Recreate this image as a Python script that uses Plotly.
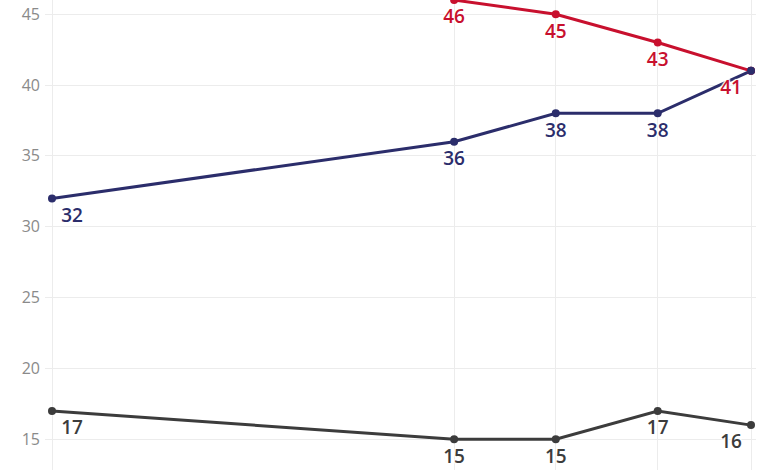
import plotly.graph_objects as go
import pandas as pd

dates = ["2019-01-01", "2022-12-15", "2023-12-15", "2024-12-15", "2025-11-15"]
red_dates = dates[1:]
red_vals = [46, 45, 43, 41]
blue_vals = [32, 36, 38, 38, 41]
gray_vals = [17, 15, 15, 17, 16]
y_ticks = [15, 20, 25, 30, 35, 40, 45]

RED = "#c8102e"
BLUE = "#2b2d6b"
GRAY = "#3c3c3c"

shadow = "1px 1px 1px #fff, -1px -1px 1px #fff, 1px -1px 1px #fff, -1px 1px 1px #fff"
FONT = "Open Sans"
LBL_SIZE = 19

fig = go.Figure()


def add_series(x, y, color, texts, positions):
    fig.add_trace(go.Scatter(
        x=x, y=y, mode="lines+markers",
        line=dict(color=color, width=3), marker=dict(size=8, color=color),
        cliponaxis=False, hoverinfo="skip", showlegend=False))
    fig.add_trace(go.Scatter(
        x=x, y=y, mode="markers+text",
        marker=dict(size=13, color="rgba(0,0,0,0)"),
        text=texts, textposition=positions,
        textfont=dict(family=FONT, size=LBL_SIZE, color=color, weight=600, shadow=shadow),
        cliponaxis=False, hoverinfo="skip", showlegend=False))


add_series(dates, gray_vals, GRAY, [str(v) for v in gray_vals],
           ["bottom right", "bottom center", "bottom center", "bottom center", "bottom left"])

blue_text = [str(v) for v in blue_vals]
blue_text[-1] = ""
add_series(dates, blue_vals, BLUE, blue_text,
           ["bottom right", "bottom center", "bottom center", "bottom center", "bottom left"])

add_series(red_dates, red_vals, RED, [str(v) for v in red_vals],
           ["bottom center", "bottom center", "bottom center", "bottom left"])

# blue end point drawn on top of red line
fig.add_trace(go.Scatter(
    x=dates[-1:], y=blue_vals[-1:], mode="markers",
    marker=dict(size=8, color=BLUE), cliponaxis=False,
    hoverinfo="skip", showlegend=False))

d = pd.to_datetime(dates)
span_days = (d[-1] - d[0]).days
px_per_day = (751 - 52) / span_days
x0 = d[0] - pd.Timedelta(days=7 / px_per_day)
x1 = d[-1] + pd.Timedelta(days=5 / px_per_day)

y_top = 46.001
y_bottom = y_top - 470 / 14.17

fig.update_layout(
    width=780, height=470,
    margin=dict(l=45, r=24, t=0, b=0, pad=0),
    paper_bgcolor="white", plot_bgcolor="white",
    font=dict(family=FONT),
    xaxis=dict(type="date", range=[x0, x1], tickvals=dates, showticklabels=False,
               showgrid=True, gridcolor="#ececec", gridwidth=1, zeroline=False,
               showline=False, ticks=""),
    yaxis=dict(range=[y_bottom, y_top], tickvals=y_ticks, showgrid=True,
               gridcolor="#ececec", gridwidth=1, zeroline=False, showline=False,
               ticks="", ticklabelstandoff=4, automargin=False,
               tickfont=dict(family=FONT, size=16, color="#8a8a8a")),
)

fig.write_html("out.html", config={"displayModeBar": False},
               post_script="document.body.style.margin='0';document.body.style.padding='0';")
